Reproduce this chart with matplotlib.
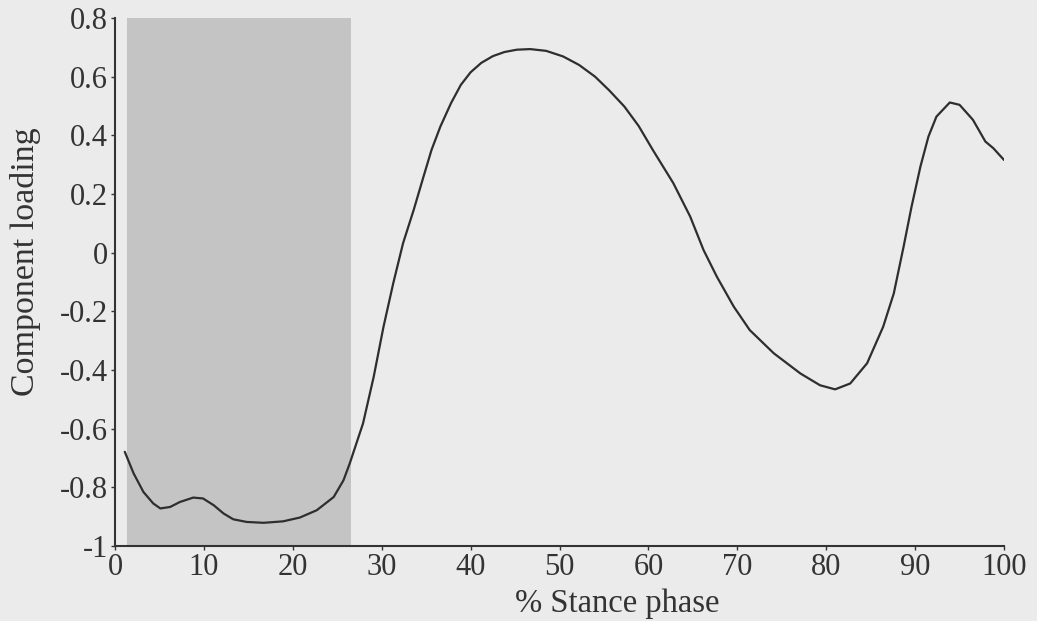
import matplotlib
matplotlib.use('Agg')
import matplotlib.pyplot as plt

# component loading curve
stance = [1.1, 2.1, 3.2, 4.3, 5.1, 6.2, 7.3, 8.8, 9.9, 11.1, 12.2, 13.3, 14.8, 16.7,
          18.9, 20.8, 22.7, 24.6, 25.7, 26.4, 27.9, 29.1, 30.2, 31.3, 32.4, 33.6,
          34.7, 35.6, 36.6, 37.8, 38.9, 40.0, 41.2, 42.5, 43.8, 45.2, 46.7, 48.5,
          50.4, 52.2, 54.0, 55.6, 57.3, 58.9, 60.5, 62.8, 64.7, 66.2, 67.7, 69.6,
          71.4, 74.1, 77.1, 79.3, 81.0, 82.7, 84.6, 86.4, 87.6, 88.7, 89.6, 90.6,
          91.5, 92.4, 93.9, 95.0, 96.5, 97.9, 98.8, 100.0]
loading = [-0.679, -0.753, -0.816, -0.855, -0.872, -0.867, -0.850, -0.835, -0.838,
           -0.861, -0.889, -0.909, -0.918, -0.921, -0.916, -0.903, -0.878, -0.833,
           -0.776, -0.719, -0.582, -0.423, -0.253, -0.104, 0.032, 0.146, 0.259,
           0.350, 0.430, 0.510, 0.572, 0.615, 0.647, 0.670, 0.684, 0.692, 0.694,
           0.688, 0.669, 0.640, 0.600, 0.553, 0.498, 0.432, 0.350, 0.237, 0.123,
           0.009, -0.082, -0.184, -0.264, -0.343, -0.412, -0.452, -0.466, -0.446,
           -0.377, -0.253, -0.139, 0.020, 0.157, 0.294, 0.396, 0.464, 0.512, 0.504,
           0.453, 0.379, 0.356, 0.316]

shade_start, shade_end = 1.3, 26.6

xticks = [0, 10, 20, 30, 40, 50, 60, 70, 80, 90, 100]
yticks = [0.8, 0.6, 0.4, 0.2, 0, -0.2, -0.4, -0.6, -0.8, -1]
ylabels = ['0.8', '0.6', '0.4', '0.2', '0', '-0.2', '-0.4', '-0.6', '-0.8', '-1']

plt.rcParams['font.family'] = ['Liberation Serif', 'DejaVu Serif']

bg = '#ebebeb'
ink = '#333333'
fig = plt.figure(figsize=(10.37, 6.21), dpi=100, facecolor=bg)
ax = fig.add_axes([0.1109, 0.1208, 0.8573, 0.8502])
ax.set_facecolor(bg)

ax.axvspan(shade_start, shade_end, color='#c4c4c4', lw=0, zorder=0)
ax.plot(stance, loading, color='#2e2e2e', lw=1.6, zorder=2,
        solid_joinstyle='round', solid_capstyle='round')

ax.set_xlim(0, 100)
ax.set_ylim(-1, 0.8)
ax.set_xticks(xticks)
ax.set_yticks(yticks)
ax.set_yticklabels(ylabels)

for s in ['top', 'right']:
    ax.spines[s].set_visible(False)
for s in ['left', 'bottom']:
    ax.spines[s].set_color(ink)
    ax.spines[s].set_linewidth(1.5)

ax.tick_params(direction='out', length=3, width=1, colors=ink,
               labelsize=22, labelcolor=ink, pad=2)

# axis titles placed where they sit in the original
fig.text(617 / 1037, 1 - 604 / 621, '% Stance phase', fontsize=23.5,
         color=ink, ha='center', va='center')
fig.text(26 / 1037, 1 - 262 / 621, 'Component loading', fontsize=24.5,
         color=ink, ha='center', va='center', rotation=90)

fig.savefig('out.png', dpi=100, facecolor=bg)
